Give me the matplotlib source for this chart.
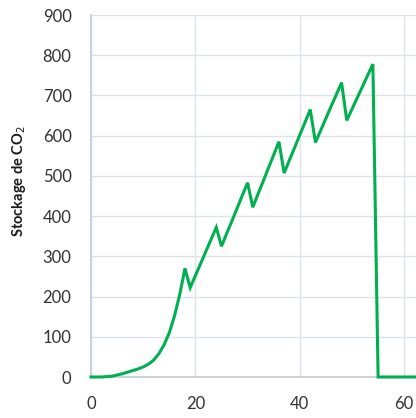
import matplotlib
matplotlib.use("Agg")
import matplotlib.pyplot as plt

years = list(range(0, 63))
storage = [0, 0, 0, 1, 2, 5, 8, 12, 16, 20,
           25, 32, 42, 58, 80, 110, 152, 205, 270, 222,
           252, 282, 312, 342, 372, 325, 357, 388, 420, 452,
           483, 422, 455, 487, 520, 552, 585, 507, 539, 570,
           602, 633, 665, 583, 613, 643, 673, 702, 732, 638,
           666, 694, 722, 750, 778, 0, 0, 0, 0, 0,
           0, 0, 0]
x_ticks = [0, 20, 40, 60]
y_ticks = [0, 100, 200, 300, 400, 500, 600, 700, 800, 900]
y_label = "Stockage de CO$_2$"

plt.rcParams['font.family'] = ['Lato', 'DejaVu Sans']

fig = plt.figure(figsize=(4.16, 4.18), dpi=100)
x0 = 91 / 416
px_per_unit = 5.22
xmax = 70
w = xmax * px_per_unit / 416
ax = fig.add_axes([x0, (418 - 377) / 418, w, 362 / 418])

ax.plot(years, storage, color="#00B050", linewidth=2.2, solid_joinstyle="miter", zorder=3, clip_on=False)

ax.set_xlim(0, xmax)
ax.set_ylim(0, 900)
ax.set_xticks(x_ticks)
ax.set_yticks(y_ticks)
ax.grid(True, color="#dde1e8", linewidth=1.0)
ax.set_axisbelow(True)
for s in ["top", "right"]:
    ax.spines[s].set_visible(False)
for s in ["left", "bottom"]:
    ax.spines[s].set_color("#c3cad8")
    ax.spines[s].set_linewidth(1.2)
ax.tick_params(axis="both", length=0, labelsize=12, colors="#333333")
ax.tick_params(axis="y", pad=14)
ax.tick_params(axis="x", pad=14)
ax.set_ylabel(y_label, fontsize=10.5, fontweight="bold", color="#1a1a1a")
ax.yaxis.set_label_coords((28 - 91) / (w * 416), 0.54)

fig.savefig("out.png", dpi=100)
